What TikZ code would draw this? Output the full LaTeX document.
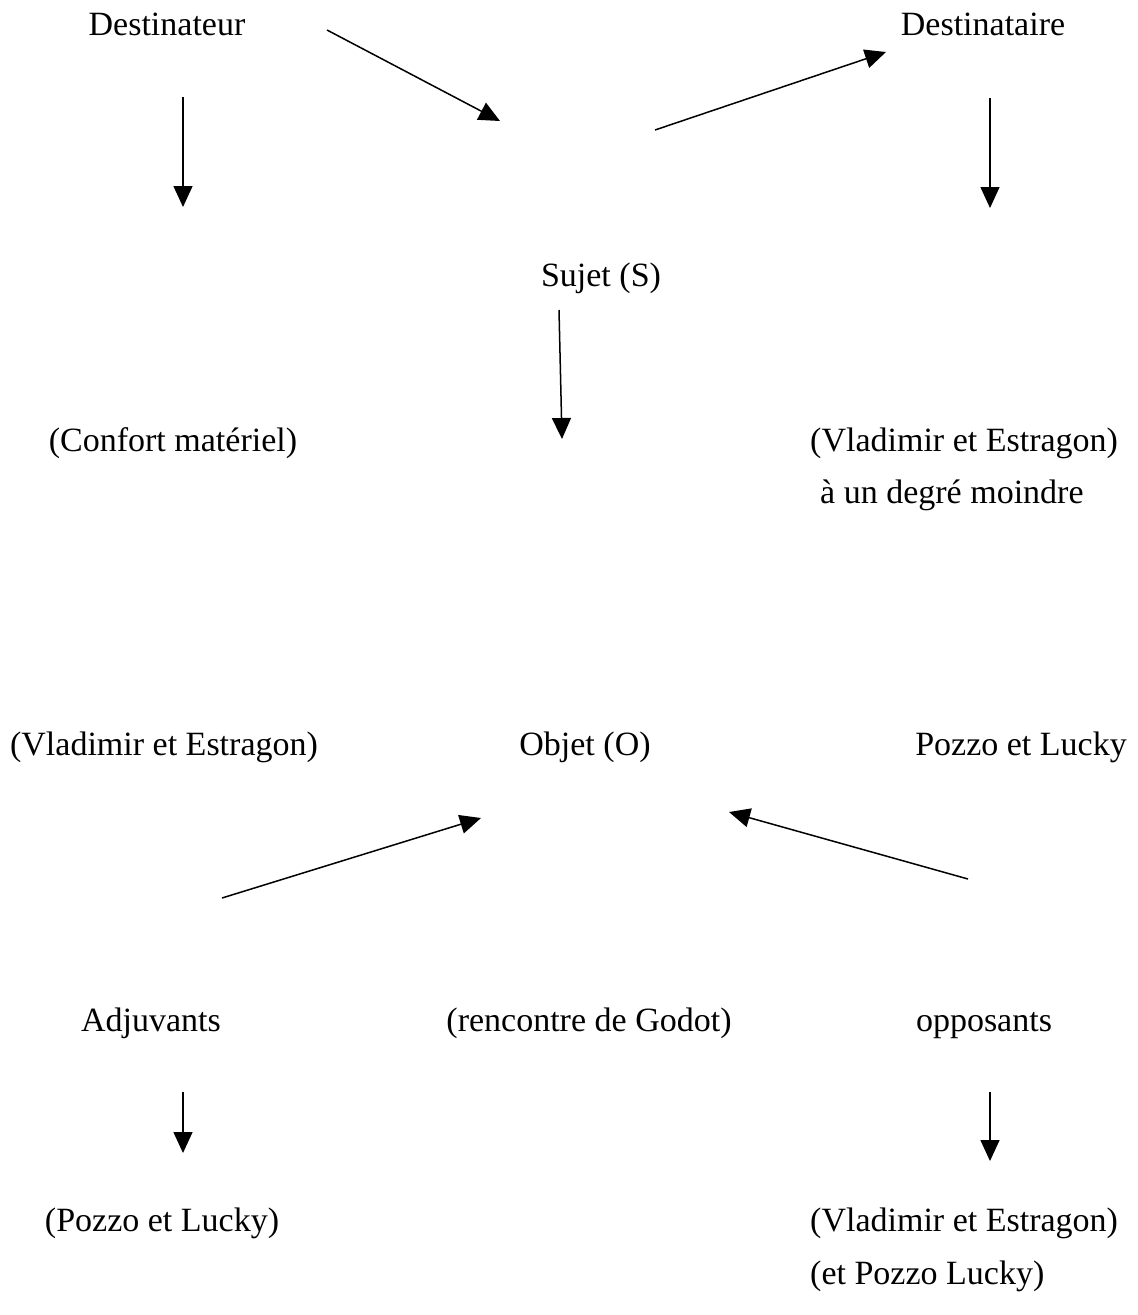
\documentclass[tikz,border=0pt]{standalone}
\usepackage{fontspec}
\setmainfont{Liberation Serif}
\usetikzlibrary{arrows.meta}
\begin{document}
\begin{tikzpicture}[x=1pt,y=-1pt,
  lbl/.style={anchor=base,inner sep=0pt,font=\fontsize{34}{39}\selectfont},
  lblw/.style={lbl,anchor=base west},
  arr/.style={line width=1.5pt,-{Triangle[length=21pt,width=19pt]}}]
\useasboundingbox (0,0) rectangle (1138,1315);
% texts
\node[lbl] (dtr) at (167,35) {Destinateur};
\node[lbl] (dta) at (983,35) {Destinataire};
\node[lbl] (suj) at (601,286) {Sujet (S)};
\node[lbl] (conf) at (173,451) {(Confort matériel)};
\node[lblw] (ve1) at (810,451) {(Vladimir et Estragon)};
\node[lblw] (deg) at (820,503) {à un degré moindre};
\node[lbl] (ve2) at (164,755) {(Vladimir et Estragon)};
\node[lbl] (obj) at (585,755) {Objet (O)};
\node[lbl] (pl1) at (1021,755) {Pozzo et Lucky};
\node[lbl] (adj) at (151,1031) {Adjuvants};
\node[lbl] (god) at (589,1031) {(rencontre de Godot)};
\node[lbl] (opp) at (984,1031) {opposants};
\node[lbl] (pl2) at (162,1231) {(Pozzo et Lucky)};
\node[lblw] (ve3) at (810,1231) {(Vladimir et Estragon)};
\node[lblw] (epl) at (810,1284) {(et Pozzo Lucky)};
% connector ends
\coordinate (a1s) at (183,97);  \coordinate (a1e) at (183,207);
\coordinate (a2s) at (327,30);  \coordinate (a2e) at (500,121);
\coordinate (a3s) at (655,130); \coordinate (a3e) at (886,52);
\coordinate (a4s) at (990,98);  \coordinate (a4e) at (990,208);
\coordinate (a5s) at (559,310); \coordinate (a5e) at (562,439);
\coordinate (a6s) at (222,898); \coordinate (a6e) at (481,818);
\coordinate (a7s) at (968,879); \coordinate (a7e) at (729,812);
\coordinate (a8s) at (183,1092); \coordinate (a8e) at (183,1153);
\coordinate (a9s) at (990,1092); \coordinate (a9e) at (990,1161);
\foreach \i in {1,...,9} \draw[arr] (a\i s) -- (a\i e);
\end{tikzpicture}
\end{document}
